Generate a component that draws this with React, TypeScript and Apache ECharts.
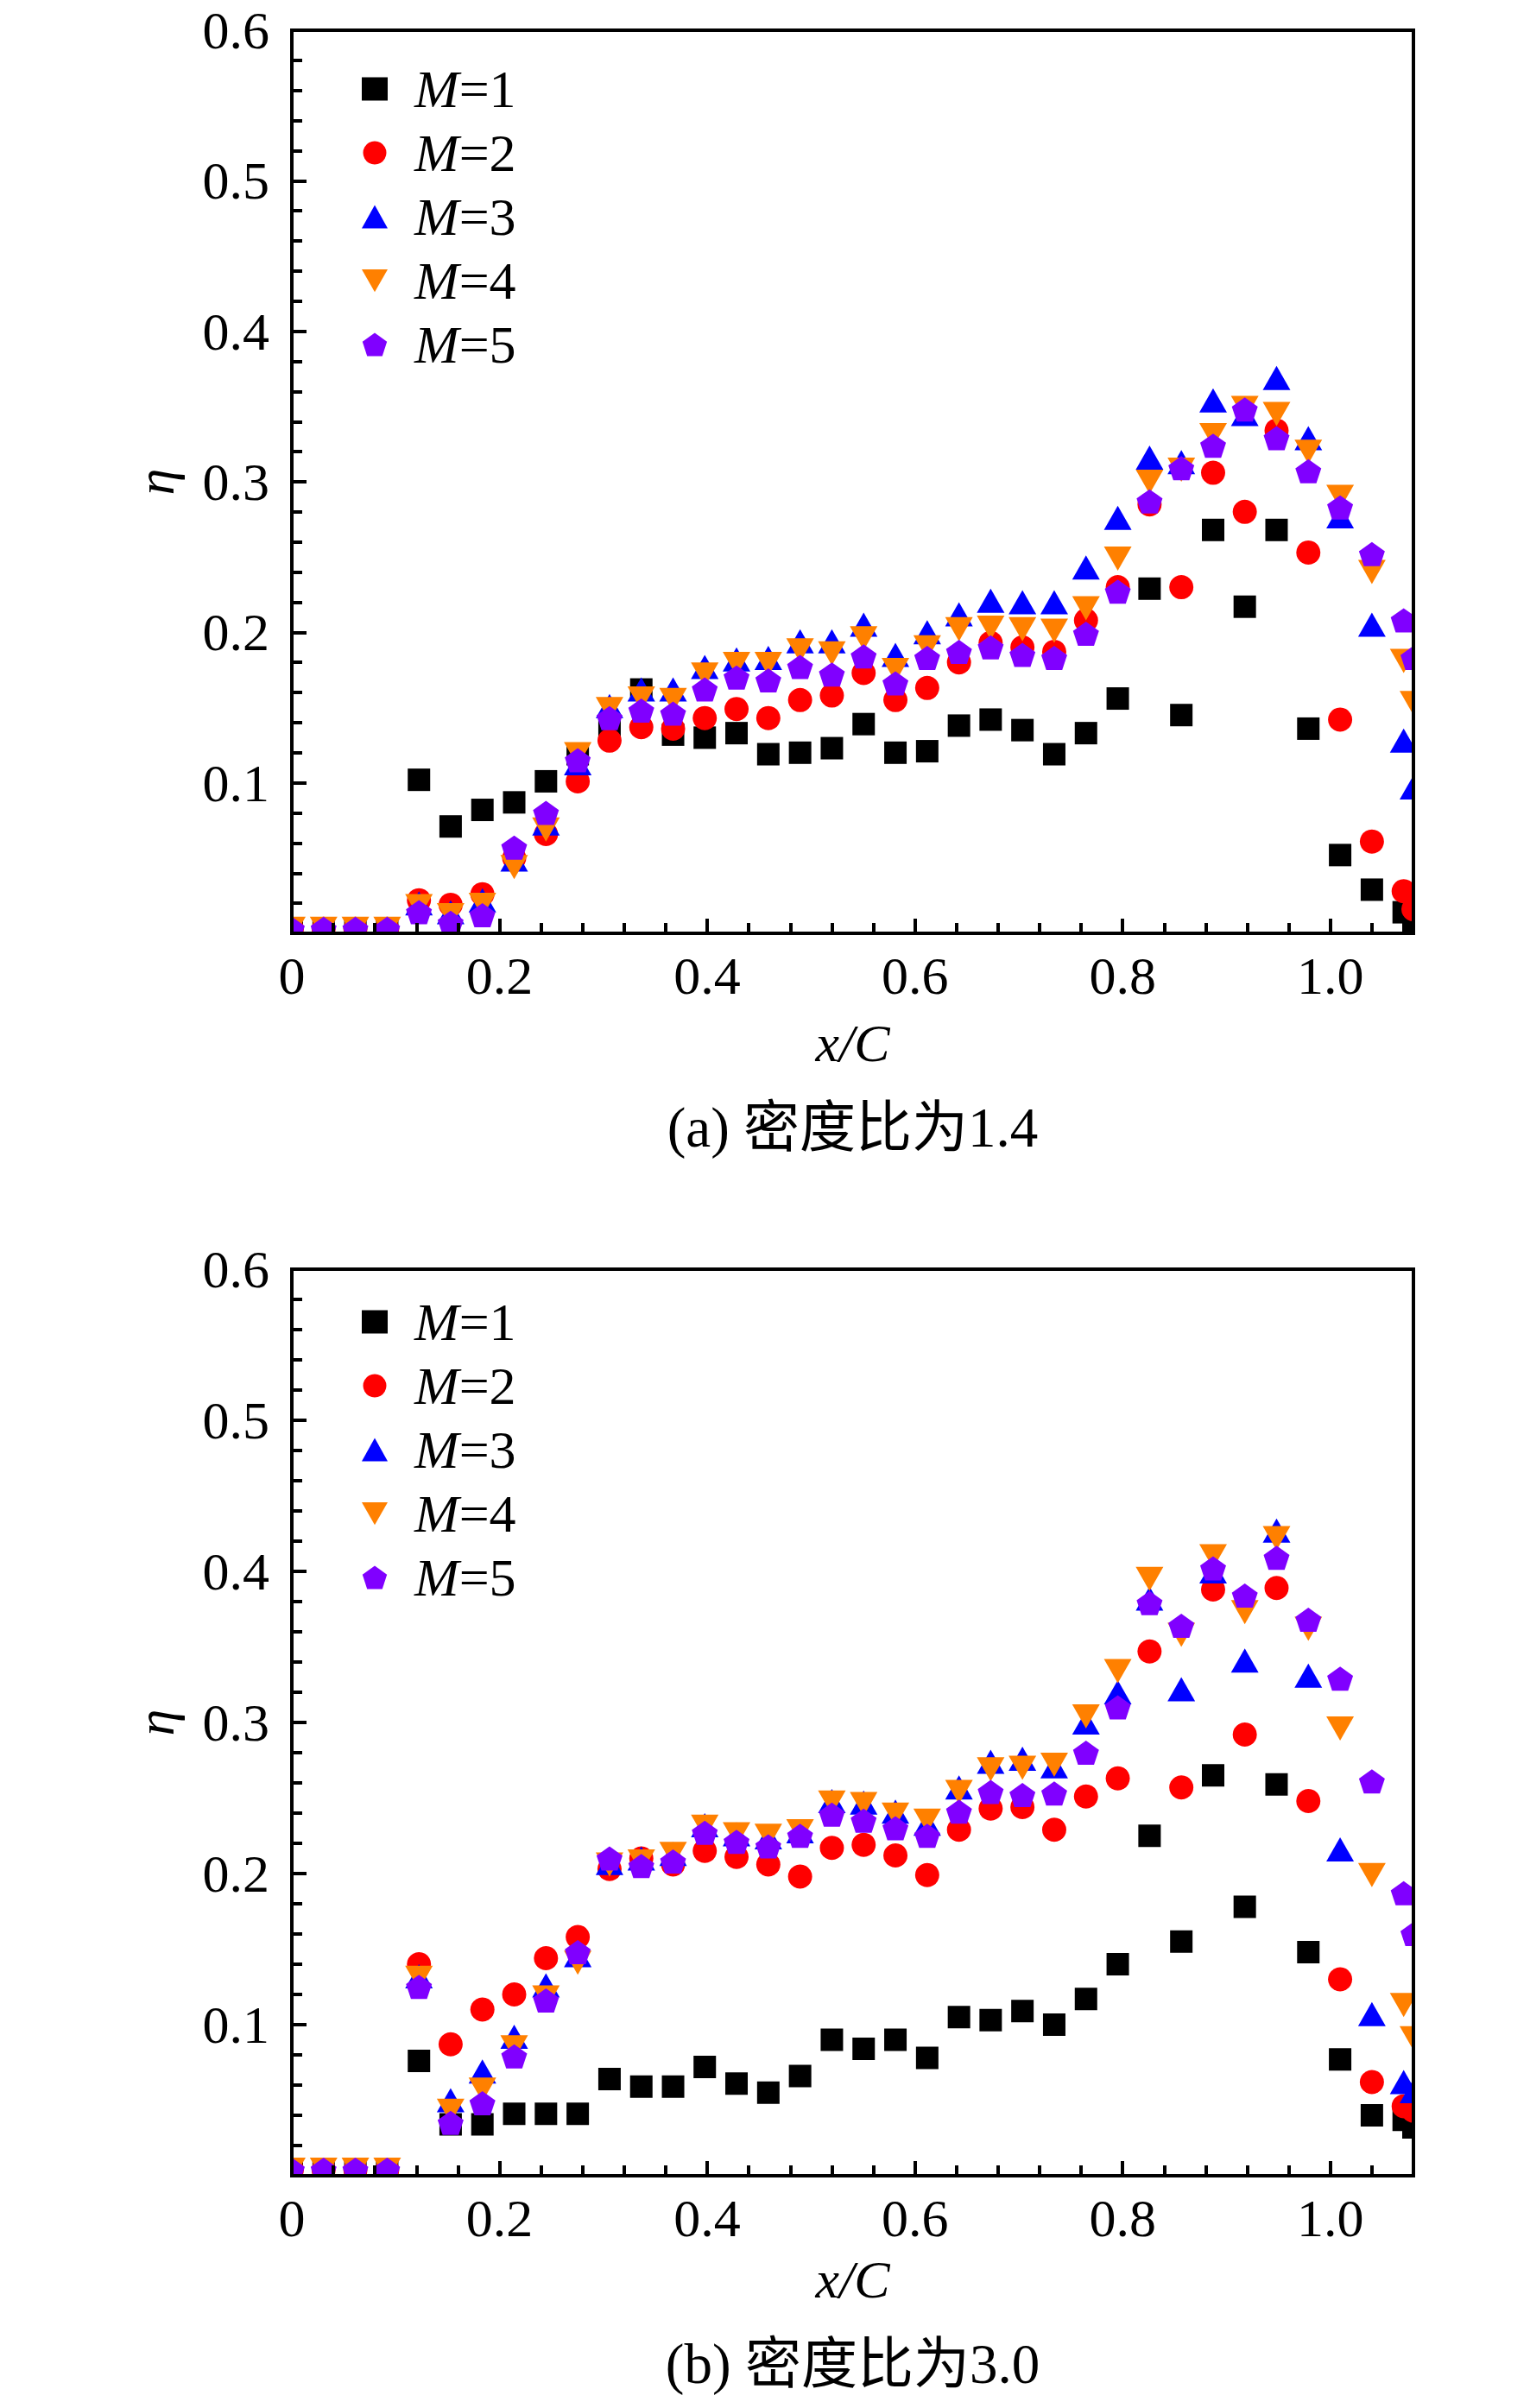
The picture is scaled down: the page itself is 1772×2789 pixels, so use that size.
import React, { useEffect, useRef } from "react";
import * as echarts from "echarts";

// x/C positions of the measurement columns
const xPositions = [
  0, 0.0306, 0.0612, 0.0918, 0.1224, 0.1529, 0.1835, 0.2141, 0.2447, 0.2753,
  0.3059, 0.3365, 0.3671, 0.3976, 0.4282, 0.4588, 0.4894, 0.52, 0.5506, 0.5812,
  0.6118, 0.6424, 0.6729, 0.7035, 0.7341, 0.7647, 0.7953, 0.8259, 0.8565, 0.8871,
  0.9176, 0.9482, 0.9788, 1.0094, 1.04, 1.0706, 1.08,
];

const seriesNames = ["M=1", "M=2", "M=3", "M=4", "M=5"];

// (a) density ratio 1.4
const ratio14_M1 = [0.003, 0.003, 0.003, 0.003, 0.102, 0.071, 0.082, 0.087, 0.101, 0.119, 0.135, 0.162, 0.132, 0.13, 0.133, 0.119, 0.12, 0.123, 0.139, 0.12, 0.121, 0.138, 0.142, 0.135, 0.119, 0.133, 0.156, 0.229, 0.145, 0.268, 0.217, 0.268, 0.136, 0.052, 0.029, 0.014, 0.006];
const ratio14_M2 = [0.003, 0.003, 0.003, 0.003, 0.022, 0.019, 0.026, 0.05, 0.066, 0.101, 0.128, 0.137, 0.136, 0.143, 0.149, 0.143, 0.155, 0.158, 0.173, 0.155, 0.163, 0.18, 0.193, 0.19, 0.187, 0.208, 0.23, 0.285, 0.23, 0.306, 0.28, 0.334, 0.253, 0.142, 0.061, 0.028, 0.016];
const ratio14_M3 = [0.003, 0.003, 0.003, 0.003, 0.02, 0.014, 0.022, 0.049, 0.073, 0.113, 0.151, 0.162, 0.162, 0.177, 0.182, 0.183, 0.194, 0.194, 0.205, 0.185, 0.2, 0.212, 0.221, 0.22, 0.22, 0.243, 0.276, 0.316, 0.313, 0.354, 0.345, 0.369, 0.329, 0.277, 0.205, 0.128, 0.097];
const ratio14_M4 = [0.003, 0.003, 0.003, 0.003, 0.018, 0.012, 0.019, 0.044, 0.069, 0.119, 0.149, 0.156, 0.155, 0.172, 0.179, 0.179, 0.188, 0.186, 0.196, 0.175, 0.19, 0.202, 0.203, 0.202, 0.201, 0.216, 0.249, 0.3, 0.308, 0.331, 0.349, 0.345, 0.32, 0.29, 0.24, 0.181, 0.153];
const ratio14_M5 = [0.003, 0.003, 0.003, 0.003, 0.014, 0.007, 0.012, 0.057, 0.08, 0.115, 0.143, 0.148, 0.146, 0.162, 0.17, 0.168, 0.177, 0.172, 0.184, 0.166, 0.183, 0.187, 0.19, 0.185, 0.183, 0.199, 0.227, 0.287, 0.309, 0.324, 0.348, 0.329, 0.307, 0.283, 0.252, 0.208, 0.183];

// (b) density ratio 3.0
const ratio30_M1 = [0.004, 0.004, 0.004, 0.004, 0.076, 0.034, 0.034, 0.041, 0.041, 0.041, 0.064, 0.059, 0.059, 0.072, 0.061, 0.055, 0.066, 0.09, 0.084, 0.09, 0.078, 0.105, 0.103, 0.109, 0.1, 0.117, 0.14, 0.225, 0.155, 0.265, 0.178, 0.259, 0.148, 0.077, 0.04, 0.037, 0.032];
const ratio30_M2 = [0.004, 0.004, 0.004, 0.004, 0.14, 0.087, 0.11, 0.12, 0.144, 0.158, 0.203, 0.21, 0.206, 0.215, 0.211, 0.206, 0.198, 0.217, 0.219, 0.212, 0.199, 0.229, 0.243, 0.244, 0.229, 0.251, 0.263, 0.347, 0.257, 0.388, 0.292, 0.389, 0.248, 0.13, 0.062, 0.046, 0.043];
const ratio30_M3 = [0.004, 0.004, 0.004, 0.004, 0.132, 0.05, 0.069, 0.092, 0.126, 0.146, 0.207, 0.21, 0.213, 0.232, 0.226, 0.224, 0.228, 0.248, 0.247, 0.241, 0.233, 0.257, 0.274, 0.276, 0.271, 0.3, 0.32, 0.382, 0.322, 0.4, 0.341, 0.427, 0.331, 0.216, 0.107, 0.062, 0.056];
const ratio30_M4 = [0.004, 0.004, 0.004, 0.004, 0.131, 0.043, 0.057, 0.085, 0.118, 0.141, 0.206, 0.208, 0.213, 0.231, 0.226, 0.225, 0.228, 0.247, 0.246, 0.239, 0.235, 0.254, 0.269, 0.27, 0.272, 0.304, 0.334, 0.395, 0.358, 0.41, 0.373, 0.422, 0.362, 0.296, 0.199, 0.113, 0.091];
const ratio30_M5 = [0.004, 0.004, 0.004, 0.004, 0.125, 0.035, 0.048, 0.079, 0.116, 0.148, 0.21, 0.205, 0.208, 0.227, 0.221, 0.218, 0.225, 0.239, 0.235, 0.23, 0.225, 0.241, 0.254, 0.252, 0.253, 0.28, 0.31, 0.379, 0.364, 0.402, 0.384, 0.409, 0.368, 0.329, 0.261, 0.187, 0.16];

const panels = [
  { caption: "(a) 密度比为1.4", values: [ratio14_M1, ratio14_M2, ratio14_M3, ratio14_M4, ratio14_M5] },
  { caption: "(b) 密度比为3.0", values: [ratio30_M1, ratio30_M2, ratio30_M3, ratio30_M4, ratio30_M5] },
];

// ---- layout / style (not data) ----
const PAGE_W = 1772;
const PAGE_H = 2789;
const GRID_LEFT = 338;
const GRID_W = 1299;
const GRID_TOPS = [35, 1470];
const GRID_HS = [1046, 1050];
const LEGEND_TOPS = [72, 1500];
const XNAME_GAPS = [96, 89];
const CAPTION_Y = [1306, 2738];
const FONT = '"Liberation Serif", "Times New Roman", serif';
const CJK_FONT = '"Liberation Serif", "Noto Sans CJK SC", serif';
const FS = 62;

const PENTAGON = "path://M1,0 L1.951,0.691 L1.588,1.809 L0.412,1.809 L0.049,0.691 Z";
const DOWN_TRI = "path://M0,0 L2,0 L1,1.75 Z";

const markerStyles = [
  { symbol: "rect", symbolSize: [26, 26], color: "#000000" },
  { symbol: "circle", symbolSize: 28, color: "#ff0000" },
  { symbol: "triangle", symbolSize: [32, 28], color: "#0000ff" },
  { symbol: DOWN_TRI, symbolSize: [32, 28], color: "#ff8000" },
  { symbol: PENTAGON, symbolSize: [30, 28], color: "#8000ff" },
];

function buildOption() {
  const grid: any[] = [];
  const xAxis: any[] = [];
  const yAxis: any[] = [];
  const series: any[] = [];
  const legend: any[] = [];
  const graphic: any[] = [];

  panels.forEach((panel, g) => {
    const top = GRID_TOPS[g];
    const h = GRID_HS[g];
    grid.push({ left: GRID_LEFT, top, width: GRID_W, height: h, containLabel: false });

    // main x axis: labels and long ticks every 0.2
    xAxis.push({
      type: "value",
      gridIndex: g,
      position: "bottom",
      min: 0,
      max: 1.08,
      interval: 0.2,
      z: 50,
      axisLine: { show: false },
      axisTick: { show: true, inside: true, length: 17, lineStyle: { color: "#000", width: 4 } },
      splitLine: { show: false },
      axisLabel: {
        show: true,
        margin: 18,
        color: "#000",
        fontFamily: FONT,
        fontSize: FS,
        formatter: (v: number) => (v === 0 ? "0" : v > 1.05 ? "" : v.toFixed(1)),
      },
      name: "x/C",
      nameLocation: "middle",
      nameGap: XNAME_GAPS[g],
      nameTextStyle: { color: "#000", fontFamily: FONT, fontSize: FS, fontStyle: "italic" },
    });
    // minor x ticks every 0.04
    xAxis.push({
      type: "value",
      gridIndex: g,
      position: "bottom",
      min: 0,
      max: 1.08,
      interval: 0.04,
      z: 50,
      axisLine: { show: false },
      axisTick: { show: true, inside: true, length: 12, lineStyle: { color: "#000", width: 4 } },
      splitLine: { show: false },
      axisLabel: { show: false },
    });

    yAxis.push({
      type: "value",
      gridIndex: g,
      min: 0,
      max: 0.6,
      interval: 0.1,
      z: 50,
      axisLine: { show: false },
      axisTick: { show: true, inside: true, length: 17, lineStyle: { color: "#000", width: 4 } },
      minorTick: { show: true, splitNumber: 5, length: 12, lineStyle: { color: "#000", width: 4 } },
      splitLine: { show: false },
      minorSplitLine: { show: false },
      axisLabel: {
        margin: 26,
        color: "#000",
        fontFamily: FONT,
        fontSize: FS,
        lineHeight: 50,
        formatter: (v: number) => (v === 0 ? "" : v.toFixed(1)),
      },
      name: "η",
      nameLocation: "middle",
      nameGap: 127,
      nameTextStyle: { color: "#000", fontFamily: FONT, fontSize: FS, fontStyle: "italic" },
    });

    panel.values.forEach((vals, k) => {
      const st = markerStyles[k];
      series.push({
        type: "scatter",
        name: seriesNames[k],
        xAxisIndex: g * 2,
        yAxisIndex: g,
        symbol: st.symbol,
        symbolSize: st.symbolSize,
        itemStyle: { color: st.color, opacity: 1 },
        clip: false,
        silent: true,
        emphasis: { disabled: true },
        data: xPositions.map((x, i) => [x, vals[i]]),
      });
    });

    legend.push({
      orient: "vertical",
      left: 419,
      top: LEGEND_TOPS[g],
      padding: 0,
      itemWidth: 30,
      itemHeight: 27,
      itemGap: 12,
      selectedMode: false,
      data: seriesNames,
      formatter: (n: string) => "{it|M}" + n.slice(1),
      textStyle: {
        color: "#000",
        fontFamily: FONT,
        fontSize: FS,
        padding: [0, 0, 0, 26],
        rich: { it: { fontStyle: "italic", fontFamily: FONT, fontSize: FS, color: "#000" } },
      },
    });

    // white mask below the plot so that edge markers look clipped
    const maskTop = top + h + 2;
    const maskBottom = g + 1 < GRID_TOPS.length ? GRID_TOPS[g + 1] - 2 : PAGE_H;
    graphic.push({
      type: "rect",
      silent: true,
      z: 40,
      shape: { x: 0, y: maskTop, width: PAGE_W, height: maskBottom - maskTop },
      style: { fill: "#ffffff" },
    });
    // frame
    graphic.push({
      type: "rect",
      silent: true,
      z: 60,
      shape: { x: GRID_LEFT, y: top, width: GRID_W, height: h },
      style: { fill: "none", stroke: "#000000", lineWidth: 4 },
    });
    // caption
    graphic.push({
      type: "text",
      silent: true,
      z: 60,
      x: GRID_LEFT + GRID_W / 2,
      y: CAPTION_Y[g],
      style: {
        text: panel.caption,
        fill: "#000",
        fontFamily: CJK_FONT,
        fontSize: 65,
        align: "center",
        verticalAlign: "middle",
      },
    });
  });

  // side masks
  graphic.push({
    type: "rect",
    silent: true,
    z: 40,
    shape: { x: 0, y: 0, width: GRID_LEFT - 2, height: PAGE_H },
    style: { fill: "#ffffff" },
  });
  graphic.push({
    type: "rect",
    silent: true,
    z: 40,
    shape: { x: GRID_LEFT + GRID_W + 2, y: 0, width: PAGE_W - (GRID_LEFT + GRID_W + 2), height: PAGE_H },
    style: { fill: "#ffffff" },
  });

  return {
    animation: false,
    backgroundColor: "#ffffff",
    grid,
    xAxis,
    yAxis,
    legend,
    series,
    graphic: { elements: graphic },
  };
}

export default function App() {
  const ref = useRef<HTMLDivElement>(null);
  useEffect(() => {
    document.body.style.margin = "0";
    if (!ref.current) return;
    const chart = echarts.init(ref.current, undefined, { renderer: "svg" });
    chart.setOption(buildOption());
    return () => chart.dispose();
  }, []);
  return <div ref={ref} style={{ width: PAGE_W, height: PAGE_H }} />;
}
